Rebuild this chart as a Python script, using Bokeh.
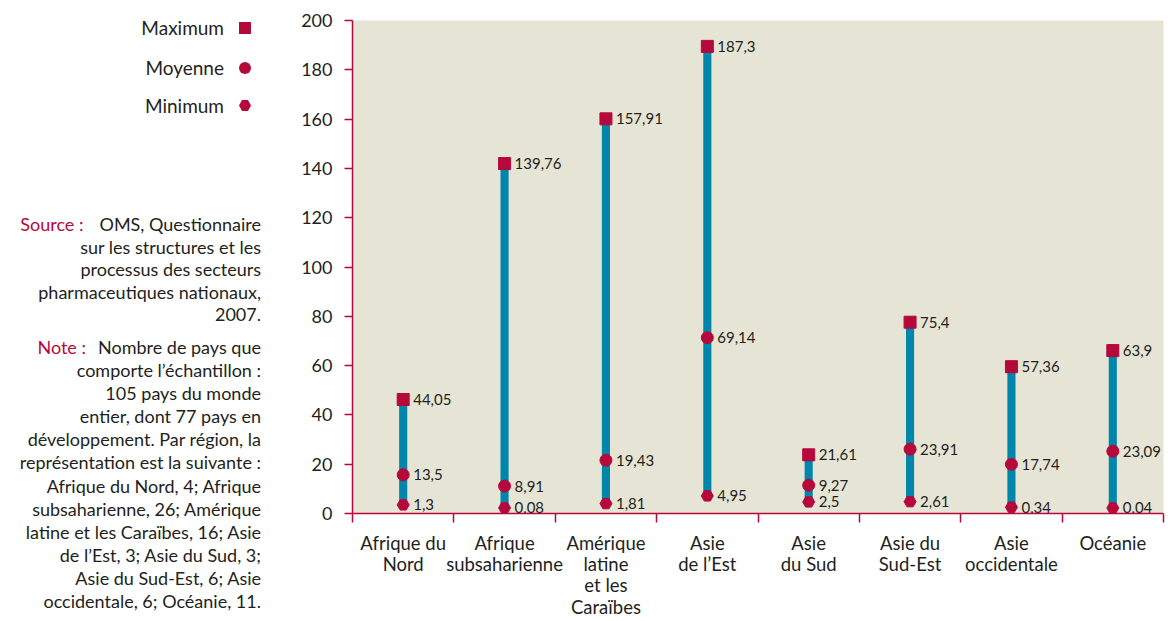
from bokeh.plotting import figure
from bokeh.models import ColumnDataSource, Range1d, FixedTicker, Div
from bokeh.layouts import row
from bokeh.core.properties import value
from bokeh.transform import dodge
from bokeh.embed import file_html
from bokeh.resources import INLINE

# ---------------- data ----------------
regions = ["Afrique du\nNord", "Afrique\nsubsaharienne", "Amérique\nlatine\net les\nCaraïbes",
           "Asie\nde l’Est", "Asie\ndu Sud", "Asie du\nSud-Est", "Asie\noccidentale", "Océanie"]
maximum = [44.05, 139.76, 157.91, 187.3, 21.61, 75.4, 57.36, 63.9]
moyenne = [13.5, 8.91, 19.43, 69.14, 9.27, 23.91, 17.74, 23.09]
minimum = [1.3, 0.08, 1.81, 4.95, 2.5, 2.61, 0.34, 0.04]
y_ticks = [0, 20, 40, 60, 80, 100, 120, 140, 160, 180, 200]

legend_labels = ["Maximum", "Moyenne", "Minimum"]
source_lines = ["OMS, Questionnaire", "sur les structures et les", "processus des secteurs",
                "pharmaceutiques nationaux,", "2007."]
note_lines = ["Nombre de pays que", "comporte l’échantillon :", "105 pays du monde",
              "entier, dont 77 pays en", "développement. Par région, la",
              "représentation est la suivante :", "Afrique du Nord, 4; Afrique",
              "subsaharienne, 26; Amérique", "latine et les Caraïbes, 16; Asie",
              "de l’Est, 3; Asie du Sud, 3;", "Asie du Sud-Est, 6; Asie",
              "occidentale, 6; Océanie, 11."]

# ---------------- style ----------------
RED = "#B5093C"
BLUE = "#0086AB"
BG = "#E6E4D4"
TXT = "#231F20"
FONT = "Lato"
H = 620
LW = 290

def fr(v):
    return str(v).replace(".", ",")

n = len(regions)
xc = [i + 0.5 for i in range(n)]
src = ColumnDataSource(dict(
    x=xc, mx=maximum, mo=moyenne, mn=minimum,
    lmx=[fr(v) for v in maximum], lmo=[fr(v) for v in moyenne], lmn=[fr(v) for v in minimum]))

# ---------------- chart ----------------
p = figure(width=876, height=H, x_range=Range1d(0, n), y_range=Range1d(0, 200),
           toolbar_location=None, output_backend="svg",
           min_border_left=62, min_border_right=3, min_border_top=20, min_border_bottom=105,
           background_fill_color=BG, border_fill_color="white", outline_line_color=None)
p.xgrid.visible = False
p.ygrid.visible = False

OFF = 2.2  # markers sit slightly above their value in the reference
p.vbar(x="x", width=0.08, bottom=dodge("mn", OFF), top=dodge("mx", OFF), source=src,
       fill_color=BLUE, line_color=None)
p.scatter(x="x", y=dodge("mx", OFF), marker="square", size=12, color=RED, source=src)
p.scatter(x="x", y=dodge("mo", OFF), marker="circle", size=12, color=RED, source=src)
p.scatter(x="x", y=dodge("mn", OFF), marker="hex", size=12, color=RED, source=src)

for col, ycol in (("lmx", "mx"), ("lmo", "mo"), ("lmn", "mn")):
    p.text(x="x", y=dodge(ycol, OFF), text=col, source=src, x_offset=10,
           text_align="left", text_baseline="middle", text_font=value(FONT),
           text_font_size="15px", text_color=TXT)

# y axis
p.yaxis.ticker = FixedTicker(ticks=y_ticks)
p.yaxis.axis_line_color = RED
p.yaxis.axis_line_width = 1.5
p.yaxis.major_tick_line_color = RED
p.yaxis.major_tick_line_width = 1.5
p.yaxis.major_tick_out = 8
p.yaxis.major_tick_in = 0
p.yaxis.minor_tick_line_color = None
p.yaxis.major_label_standoff = 12
p.yaxis.major_label_text_font = FONT
p.yaxis.major_label_text_font_size = "18px"
p.yaxis.major_label_text_color = TXT

# x axis: labels at centres, ticks at category boundaries
p.xaxis.ticker = FixedTicker(ticks=xc, minor_ticks=list(range(n + 1)))
p.xaxis.major_label_overrides = {x: r for x, r in zip(xc, regions)}
p.xaxis.axis_line_color = RED
p.xaxis.axis_line_width = 1.5
p.xaxis.major_tick_line_color = None
p.xaxis.major_tick_out = 0
p.xaxis.major_tick_in = 0
p.xaxis.minor_tick_line_color = RED
p.xaxis.minor_tick_line_width = 1.5
p.xaxis.minor_tick_out = 9
p.xaxis.minor_tick_in = 0
p.xaxis.major_label_standoff = 9
p.xaxis.major_label_text_font = FONT
p.xaxis.major_label_text_font_size = "18.5px"
p.xaxis.major_label_text_color = TXT
p.xaxis.major_label_text_line_height = 0.97

# ---------------- side panel (legend + source/note) as real HTML text ----------------
shapes = [
    "width:12px;height:12px;background:%s;" % RED,
    "width:12px;height:12px;background:%s;border-radius:50%%;" % RED,
    "width:12px;height:11px;background:%s;clip-path:polygon(25%% 0,75%% 0,100%% 50%%,75%% 100%%,25%% 100%%,0 50%%);" % RED,
]
leg_y = [28, 68, 106]
parts = []
for lab, shp, yy in zip(legend_labels, shapes, leg_y):
    parts.append(
        '<div style="position:absolute;right:%dpx;top:%dpx;height:24px;line-height:24px;'
        'font-size:19px;white-space:nowrap;">%s</div>' % (LW - 224, yy - 12, lab))
    parts.append('<div style="position:absolute;left:239px;top:%dpx;%s"></div>' % (yy - 6, shp))

def block(lines, label, top, lh, label_pad):
    html = '<div style="position:absolute;right:%dpx;top:%dpx;line-height:%spx;font-size:18px;' \
           'text-align:right;white-space:nowrap;">' % (LW - 261, top, lh)
    first = '<span style="color:%s;padding-right:%dpx;">%s</span>%s' % (RED, label_pad, label, lines[0])
    html += "<br>".join([first] + lines[1:]) + "</div>"
    return html

parts.append(block(source_lines, "Source :", 224 - 11, 22.6, 16))
parts.append(block(note_lines, "Note :", 347 - 11, 23.1, 12))

side = Div(text='<div style="position:relative;width:%dpx;height:%dpx;font-family:Lato;color:%s;">%s</div>'
           % (LW, H, TXT, "".join(parts)), width=LW, height=H, margin=0)

layout = row(side, p)
open("out.html", "w").write(file_html(layout, INLINE))
